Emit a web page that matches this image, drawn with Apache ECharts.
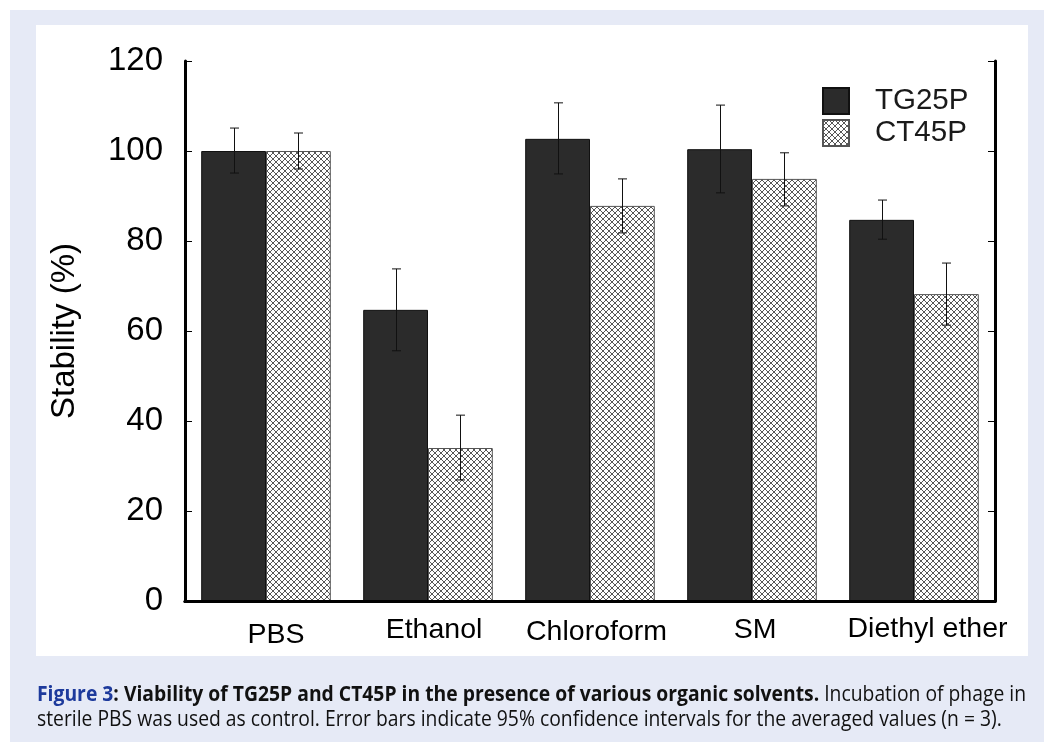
<!DOCTYPE html>
<html><head><meta charset="utf-8">
<script src="https://cdn.jsdelivr.net/npm/echarts@6/dist/echarts.min.js"></script>
<style>
html,body{margin:0;padding:0;background:#fff;width:1044px;height:742px;overflow:hidden;}
#bg{position:absolute;left:10px;top:10px;width:1034px;height:732px;background:#e6eaf6;}
#panel{position:absolute;left:36px;top:25px;width:992px;height:631px;background:#fff;}
#chart{position:absolute;left:0;top:0;width:1044px;height:742px;}
#cap{position:absolute;left:37px;top:681px;width:1200px;font-family:"Open Sans",sans-serif;font-size:21px;line-height:25px;color:#111;transform:scaleX(0.92);transform-origin:0 0;white-space:nowrap;}
#cap .fig{color:#1d3a9c;font-weight:bold;}
#cap b{font-weight:bold;}
</style></head><body>
<div id="bg"></div><div id="panel"></div>
<div id="chart"></div>
<div id="cap"><span class="fig">Figure 3</span><b>: Viability of TG25P and CT45P in the presence of various organic solvents.</b> Incubation of phage in<br>sterile PBS was used as control. Error bars indicate 95% confidence intervals for the averaged values (n = 3).</div>
<script>
const categories = ['PBS','Ethanol','Chloroform','SM','Diethyl ether'];
const tg25p = [100, 64.7, 102.7, 100.4, 84.7];
const tg25pLow = [95.1, 55.6, 94.9, 90.7, 80.4];
const tg25pHigh = [105.1, 73.8, 110.7, 110.2, 89.1];
const ct45p = [100, 34.0, 87.8, 93.8, 68.2];
const ct45pLow = [96.0, 26.9, 81.8, 87.8, 61.3];
const ct45pHigh = [104.0, 41.3, 93.8, 99.6, 75.1];
const yTicks = [0,20,40,60,80,100,120];

function hatch(){
  const c=document.createElement('canvas'); c.width=6; c.height=6;
  const g=c.getContext('2d');
  g.fillStyle='#fff'; g.fillRect(0,0,6,6);
  g.strokeStyle='#444'; g.lineWidth=0.9;
  g.beginPath(); g.moveTo(0,0); g.lineTo(6,6); g.moveTo(6,0); g.lineTo(0,6); g.stroke();
  return c;
}
const hatchPattern={image:hatch(),repeat:'repeat'};

function errSeries(name, low, high, side){
  return {
    type:'custom', name:name+'_err', z:5, silent:true,
    data: categories.map((c,i)=>[i, low[i], high[i]]),
    renderItem:function(params, api){
      const i=api.value(0);
      const band=api.size([1,0])[0];
      const lo=api.coord([i, api.value(1)]);
      const hi=api.coord([i, api.value(2)]);
      const x=Math.round(lo[0]+side*band*0.2)+0.5;
      const w=4.5;
      const st={stroke:'#111',lineWidth:1};
      return {type:'group',children:[
        {type:'line',shape:{x1:x,y1:lo[1],x2:x,y2:hi[1]},style:st},
        {type:'line',shape:{x1:x-w,y1:lo[1],x2:x+w,y2:lo[1]},style:st},
        {type:'line',shape:{x1:x-w,y1:hi[1],x2:x+w,y2:hi[1]},style:st}
      ]};
    }
  };
}

const chart=echarts.init(document.getElementById('chart'),null,{renderer:'canvas'});
const font='"Liberation Sans", Arial, sans-serif';
const rich={};
const offs=[[20,0,0,20],[15,0,0,12],[17,0,0,13],[15,0,0,6],[14,0,0,27]];
offs.forEach((p,i)=>{rich['c'+i]={padding:p,fontSize:28.5,fontFamily:font,color:'#000'};});
chart.setOption({
  backgroundColor:'transparent',
  animation:false,
  grid:{left:185,right:49,top:61,bottom:141},
  legend:{
    orient:'vertical', left:822, top:86, itemGap:2, padding:0,
    itemWidth:26, itemHeight:26,
    data:[{name:'TG25P',icon:'rect'},{name:'CT45P',icon:'rect'}],
    textStyle:{fontSize:29.5,fontFamily:font,color:'#1a1a1a',padding:[0,0,0,21]}
  },
  xAxis:[{
    type:'category', data:categories, z:10,
    axisLine:{lineStyle:{color:'#000',width:3}},
    axisTick:{inside:true,length:8,lineStyle:{color:'#000',width:1}},
    axisLabel:{interval:0,margin:0,formatter:(v,i)=>'{c'+i+'|'+v+'}',rich:rich}
  },{
    type:'category', data:categories, position:'top', z:10,
    axisLine:{lineStyle:{color:'#000',width:3}},
    axisTick:{inside:true,length:8,lineStyle:{color:'#000',width:1}},
    axisLabel:{show:false}
  }],
  yAxis:[{
    type:'value', min:0, max:120, interval:20, z:10,
    name:'Stability (%)', nameLocation:'middle', nameGap:104,
    nameTextStyle:{fontSize:33,fontFamily:font,color:'#000'},
    axisLine:{show:true,lineStyle:{color:'#000',width:3}},
    axisTick:{show:true,inside:true,length:7,lineStyle:{color:'#000',width:1}},
    axisLabel:{fontSize:33,fontFamily:font,color:'#000',margin:22,formatter:v=>yTicks.includes(v)?String(v):''},
    splitLine:{show:false}
  },{
    type:'value', min:0, max:120, interval:20, position:'right', z:10,
    axisLine:{show:true,lineStyle:{color:'#000',width:3}},
    axisTick:{show:true,inside:true,length:7,lineStyle:{color:'#000',width:1}},
    axisLabel:{show:false}, splitLine:{show:false}
  }],
  series:[
    {name:'TG25P',type:'bar',data:tg25p,barGap:'0%',barCategoryGap:'20%',
     itemStyle:{color:'#2b2b2b',borderColor:'#111',borderWidth:1}},
    {name:'CT45P',type:'bar',data:ct45p,barGap:'0%',barCategoryGap:'20%',
     itemStyle:{color:hatchPattern,borderColor:'#555',borderWidth:1}},
    errSeries('TG25P',tg25pLow,tg25pHigh,-1),
    errSeries('CT45P',ct45pLow,ct45pHigh,1)
  ]
});
</script>
</body></html>
